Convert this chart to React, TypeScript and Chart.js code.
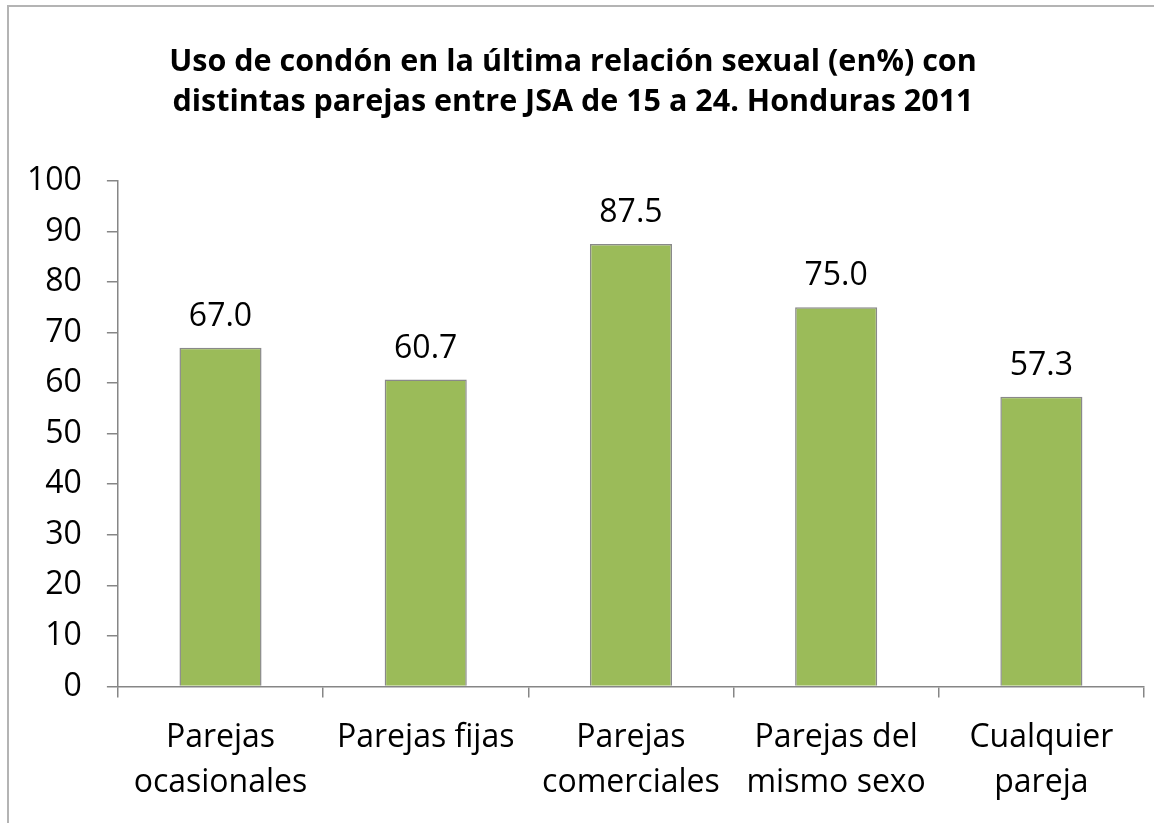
import React, { useEffect, useRef } from "react";
import { Chart, registerables } from "chart.js";

Chart.register(...registerables);

const titleLines = [
  "Uso de condón en la última relación sexual (en%) con",
  "distintas parejas entre JSA de 15 a 24. Honduras 2011",
];
const categories: (string | string[])[] = [
  ["Parejas", "ocasionales"],
  "Parejas fijas",
  ["Parejas", "comerciales"],
  ["Parejas del", "mismo sexo"],
  ["Cualquier", "pareja"],
];
const values = [67.0, 60.7, 87.5, 75.0, 57.3];

const FONT = "'Open Sans', sans-serif";

const valueLabels = {
  id: "valueLabels",
  afterDatasetsDraw(chart: any) {
    const ctx = chart.ctx;
    const meta = chart.getDatasetMeta(0);
    ctx.save();
    ctx.font = `32px ${FONT}`;
    ctx.fillStyle = "#000";
    ctx.textAlign = "center";
    ctx.textBaseline = "alphabetic";
    meta.data.forEach((bar: any, i: number) => {
      ctx.fillText(values[i].toFixed(1), bar.x, bar.y - 22);
    });
    ctx.restore();
  },
};

export default function App() {
  const ref = useRef<HTMLCanvasElement>(null);
  useEffect(() => {
    document.body.style.margin = "0";
    const chart = new Chart(ref.current!, {
      type: "bar",
      data: {
        labels: categories,
        datasets: [
          {
            data: values,
            backgroundColor: "#9BBB59",
            borderColor: "#898989",
            borderWidth: 1.5,
            categoryPercentage: 1,
            barPercentage: 0.4,
          },
        ],
      },
      options: {
        animation: false,
        responsive: false,
        layout: { padding: { left: 2, right: 10, top: 42, bottom: 0 } },
        plugins: {
          legend: { display: false },
          tooltip: { enabled: false },
          title: {
            display: true,
            text: titleLines,
            color: "#000",
            font: { family: FONT, size: 30.5, weight: "bold", lineHeight: 1.31 },
            padding: { top: 0, bottom: 59 },
          },
        },
        scales: {
          y: {
            min: 0,
            max: 100,
            ticks: {
              stepSize: 10,
              color: "#000",
              font: { family: FONT, size: 32 },
              padding: 25,
            },
            grid: { drawOnChartArea: false, drawTicks: true, tickLength: 11, color: "#868686", lineWidth: 1.5 },
            border: { color: "#868686", width: 1.5 },
          },
          x: {
            ticks: {
              color: "#000",
              font: { family: FONT, size: 32, lineHeight: 1.4 },
              padding: 18,
              maxRotation: 0,
              autoSkip: false,
            },
            grid: { drawOnChartArea: false, drawTicks: true, tickLength: 11, color: "#868686", lineWidth: 1.5, offset: true },
            border: { color: "#868686", width: 1.5 },
          },
        },
      },
      plugins: [valueLabels],
    });
    return () => chart.destroy();
  }, []);
  return (
    <div style={{ position: "relative", width: 1154, height: 823, overflow: "hidden", background: "#fff" }}>
      <div
        style={{
          position: "absolute",
          left: 7,
          top: 5,
          width: 1160,
          height: 830,
          borderLeft: "2px solid #b4b4b4",
          borderTop: "2px solid #b4b4b4",
        }}
      />
      <canvas ref={ref} width={1154} height={823} style={{ position: "absolute", left: 0, top: 0 }} />
    </div>
  );
}
